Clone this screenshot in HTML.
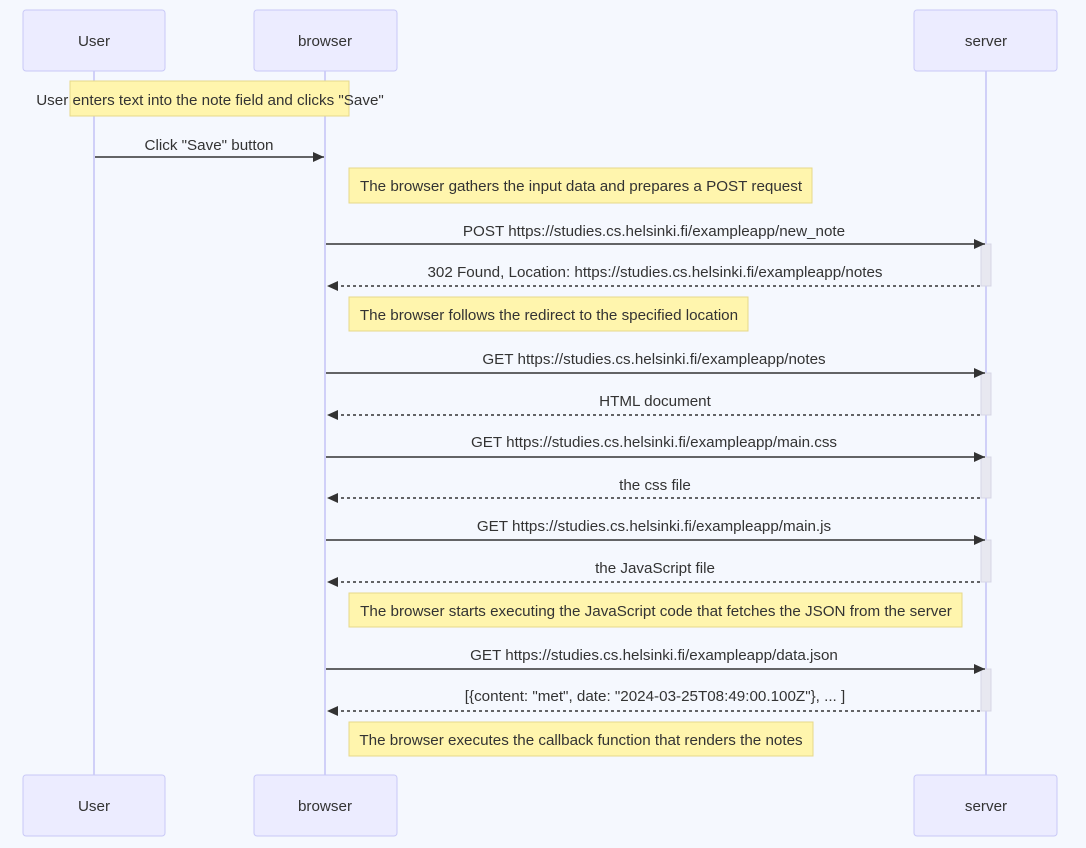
<!DOCTYPE html>
<html><head><meta charset="utf-8"><style>
html,body{margin:0;padding:0;background:#f5f8fe;}
svg{display:block;font-family:"Liberation Sans",Arial,sans-serif;font-size:15.2px;}
text{fill:#333;text-anchor:middle;}
</style></head><body>
<svg width="1086" height="848" viewBox="0 0 1086 848" xmlns="http://www.w3.org/2000/svg">
<defs>
<marker id="ah" markerWidth="12" markerHeight="12" refX="11" refY="5" orient="auto" markerUnits="userSpaceOnUse">
<path d="M0,0 L11,5 L0,10 z" fill="#333"/>
</marker>
</defs>
<rect width="1086" height="848" fill="#f5f8fe"/>
<g stroke="#c3c3f5" stroke-width="1.5">
<line x1="94" y1="71" x2="94" y2="775"/>
<line x1="325" y1="71" x2="325" y2="775"/>
<line x1="986" y1="71" x2="986" y2="775"/>
</g>
<g fill="#ececff" stroke="#c9c9f7" stroke-width="1">
<rect x="23" y="10" width="142" height="61" rx="3"/>
<rect x="254" y="10" width="143" height="61" rx="3"/>
<rect x="914" y="10" width="143" height="61" rx="3"/>
<rect x="23" y="775" width="142" height="61" rx="3"/>
<rect x="254" y="775" width="143" height="61" rx="3"/>
<rect x="914" y="775" width="143" height="61" rx="3"/>
</g>
<text x="94" y="46">User</text><text x="325" y="46">browser</text><text x="986" y="46">server</text>
<text x="94" y="811">User</text><text x="325" y="811">browser</text><text x="986" y="811">server</text>
<g fill="#e8e8f0" stroke="#d6d6e6">
<rect x="981" y="244" width="10" height="42"/>
<rect x="981" y="373" width="10" height="42"/>
<rect x="981" y="457" width="10" height="41"/>
<rect x="981" y="540" width="10" height="42"/>
<rect x="981" y="669" width="10" height="42"/>
</g>
<g fill="#fff5ad" stroke="#e6d98a">
<rect x="70" y="81" width="279" height="35"/>
<rect x="349" y="168" width="463" height="35"/>
<rect x="349" y="297" width="399" height="34"/>
<rect x="349" y="593" width="613" height="34"/>
<rect x="349" y="722" width="464" height="34"/>
</g>
<text x="210" y="105">User enters text into the note field and clicks "Save"</text>
<text x="581" y="191">The browser gathers the input data and prepares a POST request</text>
<text x="549" y="320">The browser follows the redirect to the specified location</text>
<text x="656" y="616">The browser starts executing the JavaScript code that fetches the JSON from the server</text>
<text x="581" y="745">The browser executes the callback function that renders the notes</text>
<g stroke="#333" stroke-width="1.5" marker-end="url(#ah)">
<line x1="95" y1="157" x2="324" y2="157"/>
<line x1="326" y1="244" x2="985" y2="244"/>
<line x1="980" y1="286" x2="327" y2="286" stroke-dasharray="3,3"/>
<line x1="326" y1="373" x2="985" y2="373"/>
<line x1="980" y1="415" x2="327" y2="415" stroke-dasharray="3,3"/>
<line x1="326" y1="457" x2="985" y2="457"/>
<line x1="980" y1="498" x2="327" y2="498" stroke-dasharray="3,3"/>
<line x1="326" y1="540" x2="985" y2="540"/>
<line x1="980" y1="582" x2="327" y2="582" stroke-dasharray="3,3"/>
<line x1="326" y1="669" x2="985" y2="669"/>
<line x1="980" y1="711" x2="327" y2="711" stroke-dasharray="3,3"/>
</g>
<text x="209" y="150">Click "Save" button</text>
<text x="654" y="236">POST https://studies.cs.helsinki.fi/exampleapp/new_note</text>
<text x="655" y="277">302 Found, Location: https://studies.cs.helsinki.fi/exampleapp/notes</text>
<text x="654" y="364">GET https://studies.cs.helsinki.fi/exampleapp/notes</text>
<text x="655" y="406">HTML document</text>
<text x="654" y="447">GET https://studies.cs.helsinki.fi/exampleapp/main.css</text>
<text x="655" y="490">the css file</text>
<text x="654" y="531">GET https://studies.cs.helsinki.fi/exampleapp/main.js</text>
<text x="655" y="573">the JavaScript file</text>
<text x="654" y="660">GET https://studies.cs.helsinki.fi/exampleapp/data.json</text>
<text x="655" y="701">[{content: "met", date: "2024-03-25T08:49:00.100Z"}, ... ]</text>
</svg>
</body></html>
